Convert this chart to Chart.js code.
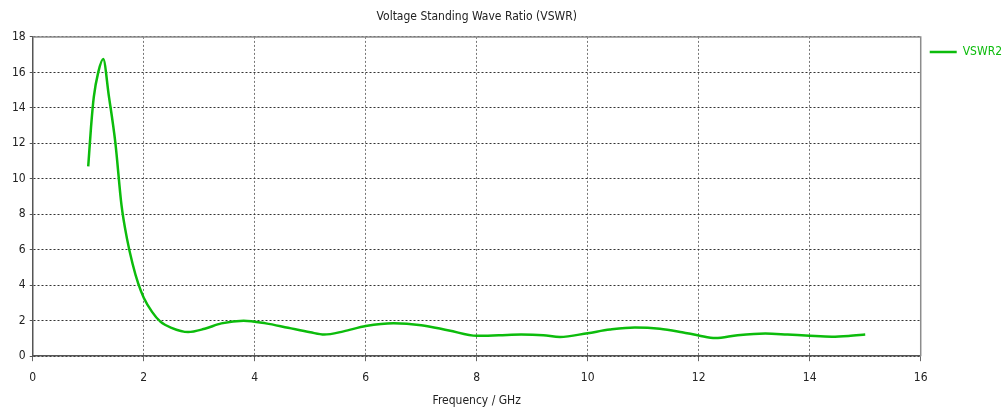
<!DOCTYPE html>
<html>
<head>
<meta charset="utf-8">
<script src="https://cdn.jsdelivr.net/npm/chart.js@4/dist/chart.umd.min.js"></script>
<style>
  html, body { margin: 0; padding: 0; background: #fff; }
  #wrap { width: 1006px; height: 410px; }
</style>
</head>
<body>
<div id="wrap"><canvas id="vswr"></canvas></div>
<script>
// frequency in GHz
var freqGHz = [1.0, 1.05, 1.1, 1.18, 1.27, 1.37, 1.49, 1.6, 1.7, 1.8, 1.9, 2.0, 2.15, 2.3, 2.5, 2.8,
    3.1, 3.4, 3.8, 4.2, 4.6, 5.0, 5.25, 5.6, 6.0, 6.5, 7.0, 7.5, 8.0, 8.4, 8.8, 9.2, 9.5,
    10.0, 10.4, 10.85, 11.3, 11.7, 12.0, 12.3, 12.7, 13.2, 13.6, 14.0, 14.4, 14.7, 15.0];
var vswr2 = [10.7, 12.9, 14.6, 16.0, 16.75, 14.7, 12.0, 8.5, 6.6, 5.2, 4.1, 3.3, 2.5, 1.95, 1.6, 1.36,
    1.55, 1.85, 2.0, 1.85, 1.6, 1.35, 1.22, 1.4, 1.7, 1.86, 1.75, 1.45, 1.15, 1.18, 1.22, 1.18, 1.08,
    1.3, 1.5, 1.62, 1.55, 1.35, 1.17, 1.02, 1.18, 1.28, 1.22, 1.15, 1.1, 1.14, 1.22];
var seriesName = "VSWR2";
var chartTitle = "Voltage Standing Wave Ratio (VSWR)";
var xTitle = "Frequency / GHz";

var green = "#0cbc0c";
var fontFam = "'DejaVu Sans Condensed', 'Liberation Sans', sans-serif";
var pts = freqGHz.map(function (f, i) { return { x: f, y: vswr2[i] }; });

// top and right frame of the plot area
var frameLines = {
    id: "frameLines",
    afterDraw: function (chart) {
        var a = chart.chartArea, c = chart.ctx;
        c.save();
        c.strokeStyle = "#8c8c8c";
        c.lineWidth = 1.5;
        c.beginPath();
        c.moveTo(a.left, a.top);
        c.lineTo(a.right, a.top);
        c.lineTo(a.right, a.bottom);
        c.stroke();
        c.restore();
    }
};

new Chart(document.getElementById("vswr"), {
    type: "line",
    data: {
        datasets: [{
            label: seriesName,
            data: pts,
            borderColor: green,
            backgroundColor: green,
            borderWidth: 2.5,
            pointRadius: 0,
            cubicInterpolationMode: "monotone",
            fill: false
        }]
    },
    options: {
        responsive: true,
        maintainAspectRatio: false,
        animation: false,
        layout: { padding: { left: 8, right: -6, top: 10, bottom: 2 } },
        plugins: {
            title: {
                display: true,
                text: chartTitle,
                fullSize: false,
                color: "#222",
                font: { family: fontFam, size: 12, weight: "normal" },
                padding: { top: 0, bottom: 12.5 }
            },
            legend: {
                position: "right",
                align: "start",
                fullSize: false,
                labels: {
                    usePointStyle: true,
                    pointStyle: "line",
                    pointStyleWidth: 27,
                    color: green,
                    font: { family: fontFam, size: 12 },
                    padding: 9
                }
            },
            tooltip: { enabled: false }
        },
        scales: {
            x: {
                type: "linear",
                min: 0, max: 16,
                ticks: { stepSize: 2, color: "#222", font: { family: fontFam, size: 12 }, padding: 9 },
                grid: { color: "#777", tickLength: 5, tickColor: "#666", tickBorderDash: [] },
                border: { display: true, color: "#555", width: 1.5, dash: [2, 2] },
                title: { display: true, text: xTitle, color: "#222", font: { family: fontFam, size: 12 }, padding: { top: 0, bottom: 0 } }
            },
            y: {
                min: 0, max: 18,
                ticks: { stepSize: 2, color: "#222", font: { family: fontFam, size: 12 }, padding: 4 },
                grid: { color: "#333", tickLength: 3, tickColor: "#555", tickBorderDash: [] },
                border: { display: true, color: "#555", width: 1.5, dash: [2, 2] }
            }
        }
    },
    plugins: [frameLines]
});
</script>
</body>
</html>
